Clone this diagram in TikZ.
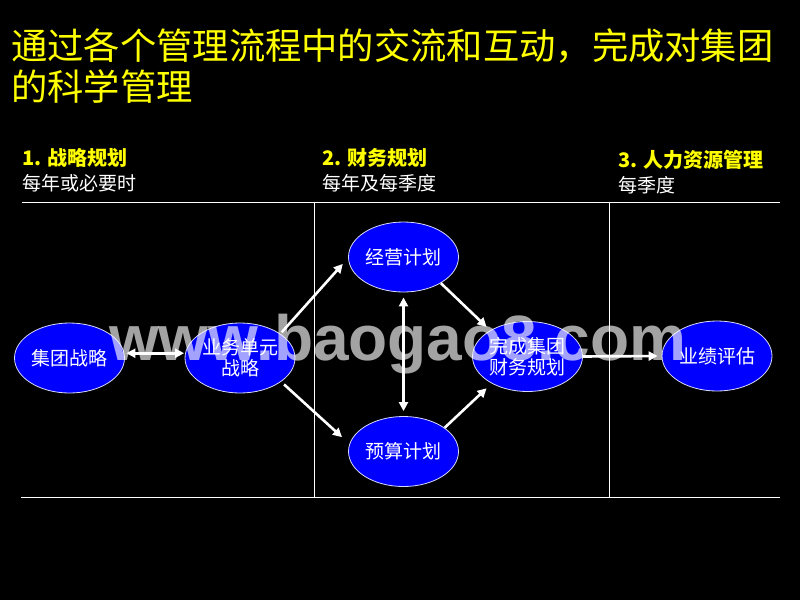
\documentclass[tikz,border=0pt]{standalone}
\usepackage{fontspec}
\setmainfont{Noto Sans CJK SC}
\newfontfamily\wmfont{Liberation Sans}
\usetikzlibrary{shapes.geometric,arrows.meta}
\definecolor{pblue}{RGB}{0,0,255}
\definecolor{pyellow}{RGB}{255,255,0}
\begin{document}
\begin{tikzpicture}[x=1pt,y=-1pt,
  titletext/.style={anchor=west,inner sep=0pt,text=pyellow,font=\fontsize{36.3}{40}\selectfont},
  headtext/.style={anchor=west,inner sep=0pt,text=pyellow,font=\fontsize{20}{22}\selectfont\bfseries},
  subtext/.style={anchor=west,inner sep=0pt,text=white,font=\fontsize{19}{21}\selectfont},
  rule/.style={draw=white,line width=1pt},
  oval/.style={ellipse,draw=white!85!pblue,line width=0.8pt,fill=pblue,text=white,
    minimum width=110pt,minimum height=70pt,inner sep=0pt,align=center,
    font=\fontsize{19}{21}\selectfont},
  arr/.style={draw=white,line width=2.6pt,-{Triangle[length=9pt,width=9pt]}},
  darr/.style={draw=white,line width=2.6pt,{Triangle[length=9pt,width=9pt]}-{Triangle[length=9pt,width=9pt]}}
]
\fill[black] (0,0) rectangle (800,600);
\useasboundingbox (0,0) rectangle (800,600);

% title
\node[titletext] (t1) at (11,46) {通过各个管理流程中的交流和互动，完成对集团};
\node[titletext] (t2) at (11,87) {的科学管理};

% headers
\node[headtext] (h1) at (22,158) {1. 战略规划};
\node[subtext]  (s1) at (22,183) {每年或必要时};
\node[headtext] (h2) at (322,158) {2. 财务规划};
\node[subtext]  (s2) at (322,183) {每年及每季度};
\node[headtext] (h3) at (618,160) {3. 人力资源管理};
\node[subtext]  (s3) at (618,185) {每季度};

% frame lines
\coordinate (tl) at (22,202);
\coordinate (tr) at (780,202);
\coordinate (bl) at (21,497);
\coordinate (br) at (780,497);
\coordinate (v1t) at (314,202);
\coordinate (v1b) at (314,497);
\coordinate (v2t) at (609,202);
\coordinate (v2b) at (609,497);
\draw[rule] (tl) -- (tr);
\draw[rule] (bl) -- (br);
\draw[rule] (v1t) -- (v1b);
\draw[rule] (v2t) -- (v2b);

% ellipses
\node[oval] (jt) at (69.5,358) {集团战略};
\node[oval] (bu) at (240,358) {业务单元\\战略};
\node[oval] (jy) at (403.5,257) {经营计划};
\node[oval] (ys) at (403.5,451.5) {预算计划};
\node[oval] (wc) at (527.5,356.5) {完成集团\\财务规划};
\node[oval] (yj) at (717,356) {业绩评估};

% arrows
\draw[darr,shorten <=2pt,shorten >=1pt] (jt.5) -- (bu.175);
\draw[arr,shorten <=2pt,shorten >=8pt] (bu.31) -- (jy.181);
\draw[arr,shorten <=4pt,shorten >=10pt] (bu.-30) -- (ys.172);
\draw[arr,shorten >=5pt] (jy.-35.5) -- (wc.145);
\draw[arr,shorten >=7pt] (ys.30) -- (wc.217);
\draw[darr,shorten <=5pt,shorten >=5pt] (jy.south) -- (ys.north);
\draw[arr,shorten >=4pt] (wc.east) -- (yj.west);

% watermark
\node[anchor=base west,inner sep=0pt,text=white,opacity=0.64,
  font=\wmfont\bfseries\fontsize{64}{70}\selectfont] (wm) at (109,360) {www.baogao8.com};
\end{tikzpicture}
\end{document}
